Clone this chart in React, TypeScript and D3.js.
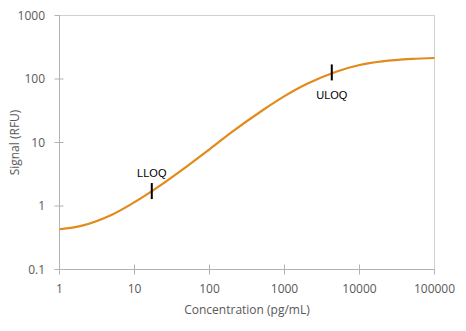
import React from "react";
import * as d3 from "d3";

const concentrations = [1, 2, 5, 10, 20, 50, 100, 200, 500, 1000, 2000, 5000, 10000, 20000, 50000, 100000];
const signals = [0.43, 0.49, 0.73, 1.15, 1.95, 4.22, 7.82, 14.7, 31.6, 53.7, 84.1, 131, 166, 189, 207, 214];
const xTicks = [1, 10, 100, 1000, 10000, 100000];
const yTicks = [0.1, 1, 10, 100, 1000];
const markerLabels = ["LLOQ", "ULOQ"];
const markerConc = [17, 4270];
const markerSignal = [1.72, 127];

export default function App() {
  const W = 466, H = 331;
  const left = 59.5, right = 434.5, top = 15.5, bottom = 269.5;
  const x = d3.scaleLog().domain([1, 100000]).range([left, right]);
  const y = d3.scaleLog().domain([0.1, 1000]).range([bottom, top]);
  const pts: [number, number][] = concentrations.map((c, i) => [c, signals[i]]);
  const line = d3.line<[number, number]>()
    .x(d => x(d[0]))
    .y(d => y(d[1]))
    .curve(d3.curveCatmullRom.alpha(0.5));
  const axisColor = "#b3b3b3";
  const textColor = "#595959";
  const font = "'Open Sans', sans-serif";
  return (
    <svg width={W} height={H} style={{ position: "absolute", left: 0, top: 0, background: "#fff" }}>
      <rect x={left} y={top} width={right - left} height={bottom - top} fill="none" stroke="#d0d0d0" strokeWidth={1} />
      <line x1={left} x2={left} y1={top} y2={bottom} stroke={axisColor} />
      <line x1={left} x2={right} y1={bottom} y2={bottom} stroke={axisColor} />
      {yTicks.map(t => (
        <g key={"y" + t}>
          <line x1={left - 5} x2={t === 0.1 || t === 1000 ? left : left + 4} y1={y(t)} y2={y(t)} stroke={axisColor} />
          <text x={45} y={y(t)} dy="0.35em" textAnchor="end" fontFamily={font} fontSize={12} fill={textColor}>{t}</text>
        </g>
      ))}
      {xTicks.map(t => (
        <g key={"x" + t}>
          <line x1={x(t)} x2={x(t)} y1={t === 1 || t === 100000 ? bottom : bottom - 5} y2={bottom + 5} stroke={axisColor} />
          <text x={x(t)} y={293} textAnchor="middle" fontFamily={font} fontSize={12} fill={textColor}>{t}</text>
        </g>
      ))}
      <text x={(left + right) / 2} y={314} textAnchor="middle" fontFamily={font} fontSize={12} fill={textColor}>Concentration (pg/mL)</text>
      <text transform={`translate(19, ${(top + bottom) / 2}) rotate(-90)`} textAnchor="middle" fontFamily={font} fontSize={12} fill={textColor}>Signal (RFU)</text>
      <path d={line(pts) || ""} fill="none" stroke="#E38A1C" strokeWidth={2.2} />
      {markerLabels.map((lab, i) => {
        const cx = x(markerConc[i]);
        const cy = y(markerSignal[i]);
        const ty = i === 0 ? cy - 14 : cy + 27;
        return (
          <g key={lab}>
            <line x1={cx} x2={cx} y1={cy - 8} y2={cy + 8} stroke="#000" strokeWidth={2} />
            <text x={cx} y={ty} textAnchor="middle" fontFamily="'Liberation Sans', Arial, sans-serif" fontSize={11} fill="#000">{lab}</text>
          </g>
        );
      })}
    </svg>
  );
}
